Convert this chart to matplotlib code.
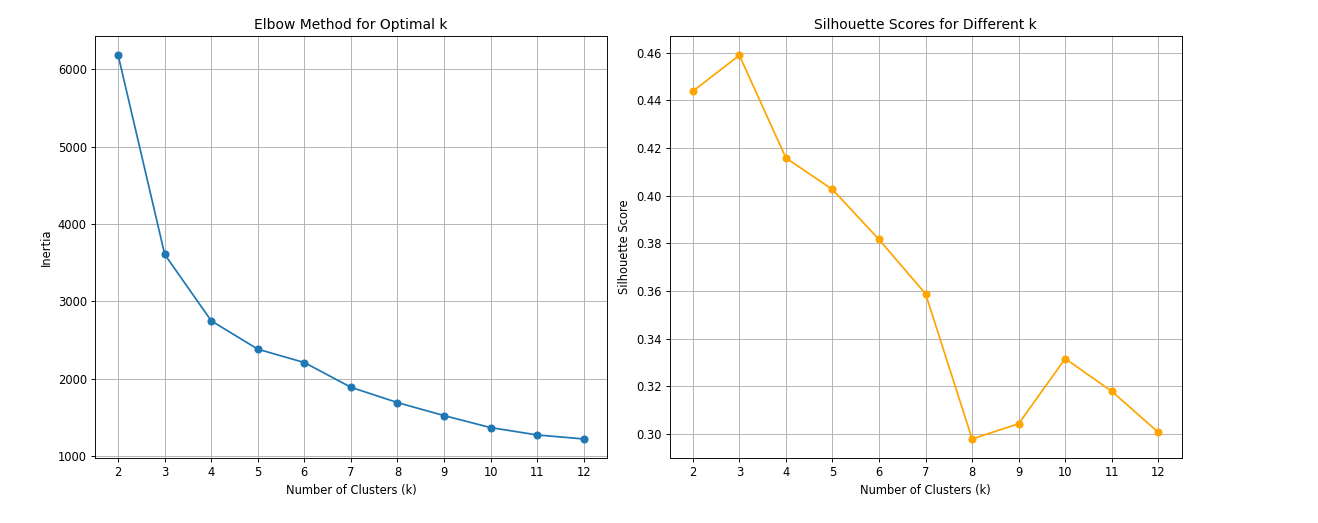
import matplotlib.pyplot as plt

# valores
k_values = [2, 3, 4, 5, 6, 7, 8, 9, 10, 11, 12]
inertia = [6181, 3608, 2750, 2384, 2211, 1892, 1694, 1526, 1371, 1276, 1224]
silhouette = [0.4438, 0.4589, 0.4158, 0.4026, 0.3816, 0.3588, 0.2979, 0.3043,
              0.3316, 0.3179, 0.3007]

dpi = 83
fig = plt.figure(figsize=(1318 / dpi, 523 / dpi), dpi=dpi)
ax1 = fig.add_axes([0.072, 0.124, 0.3885, 0.807])
ax2 = fig.add_axes([0.508, 0.124, 0.3885, 0.807])

# Método do cotovelo
ax1.plot(k_values, inertia, marker='o')
ax1.set_title('Elbow Method for Optimal k')
ax1.set_xlabel('Number of Clusters (k)')
ax1.set_ylabel('Inertia')
ax1.set_xticks(k_values)
ax1.grid(True)

# Método da silhueta
ax2.plot(k_values, silhouette, marker='o', color='orange')
ax2.set_title('Silhouette Scores for Different k')
ax2.set_xlabel('Number of Clusters (k)')
ax2.set_ylabel('Silhouette Score')
ax2.set_xticks(k_values)
ax2.grid(True)

fig.savefig('out.png', dpi=dpi)
